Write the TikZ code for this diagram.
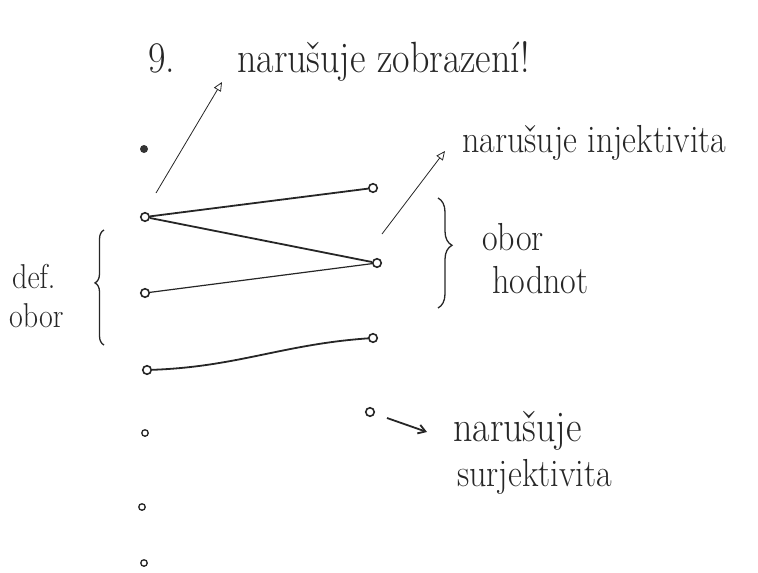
\documentclass[tikz,border=0pt]{standalone}
\usetikzlibrary{arrows.meta,decorations.pathreplacing}
\newcommand\hw[1]{\scalebox{1}[1.15]{#1}}
\begin{document}
\begin{tikzpicture}[x=1pt,y=-1pt,
  ink/.style={draw=black!85},
  pt/.style={circle,draw=black!85,line width=1.6pt,minimum size=8.5pt,inner sep=0pt},
  spt/.style={circle,draw=black!85,line width=1.3pt,minimum size=6.5pt,inner sep=0pt},
  fpt/.style={circle,fill=black!80,minimum size=8pt,inner sep=0pt},
  hand/.style={font=\fontsize{34}{40}\selectfont,inner sep=0pt,anchor=base west,text=black!85},
  handbig/.style={hand,font=\fontsize{38}{44}\selectfont},
  handsmall/.style={hand,font=\fontsize{30}{34}\selectfont},
  thinarrow/.style={ink,line width=0.8pt,-{Triangle[open,length=9pt,width=8pt]}},
  edge1/.style={ink,line width=1.8pt},
  edge2/.style={ink,line width=1.2pt},
  brc/.style={ink,line width=1.3pt,decorate}
]
\useasboundingbox (0,0) rectangle (758,573);

% left points (domain)
\node[fpt] (L1) at (144,149) {};
\node[pt] (L2) at (145,217) {};
\node[pt] (L3) at (145,293) {};
\node[pt] (L4) at (147,370) {};
\node[spt] (L5) at (145,433) {};
\node[spt] (L6) at (142,507) {};
\node[spt] (L7) at (144,563) {};

% right points
\node[pt] (R1) at (373,188) {};
\node[pt] (R2) at (377,263) {};
\node[pt] (R3) at (373,338) {};
\node[pt] (R4) at (370,412) {};

% mapping edges
\draw[edge1] (L2) -- (R1);
\draw[edge1] (L2) -- (R2);
\draw[edge2] (L3) -- (R2);
\draw[edge1] (L4) to[out=2,in=184] (R3);

% top label
\node[handbig] (num) at (148,72) {\hw{9.}};
\node[handbig] (t1) at (237,72) {\hw{narušuje zobrazení!}};
\coordinate (a1s) at (156,193);
\coordinate (a1e) at (222,82);
\draw[thinarrow] (a1s) -- (a1e);

% injectivity label
\node[hand] (t2) at (462,152) {\hw{narušuje injektivita}};
\coordinate (a2s) at (382,234);
\coordinate (a2e) at (445,151);
\draw[thinarrow] (a2s) -- (a2e);

% range brace
\coordinate (rb1) at (438,198);
\coordinate (rb2) at (438,308);
\draw[brc,decoration={brace,amplitude=14pt,aspect=0.43}] (rb1) -- (rb2);
\node[hand] (t3a) at (482,250) {\hw{obor}};
\node[hand] (t3b) at (492,293) {\hw{hodnot}};

% domain brace
\coordinate (lb1) at (104,345);
\coordinate (lb2) at (104,230);
\draw[brc,decoration={brace,amplitude=9pt,aspect=0.54}] (lb1) -- (lb2);
\node[handsmall] (t4a) at (12,288) {\hw{def.}};
\node[handsmall] (t4b) at (9,327) {\hw{obor}};

% surjectivity label
\coordinate (a3s) at (387,418);
\coordinate (a3e) at (427,432);
\draw[ink,line width=1.8pt,-{Straight Barb[length=7pt,width=9pt]}] (a3s) -- (a3e);
\node[handbig] (t5a) at (453,441) {\hw{narušuje}};
\node[hand] (t5b) at (457,486) {\hw{surjektivita}};
\end{tikzpicture}
\end{document}
